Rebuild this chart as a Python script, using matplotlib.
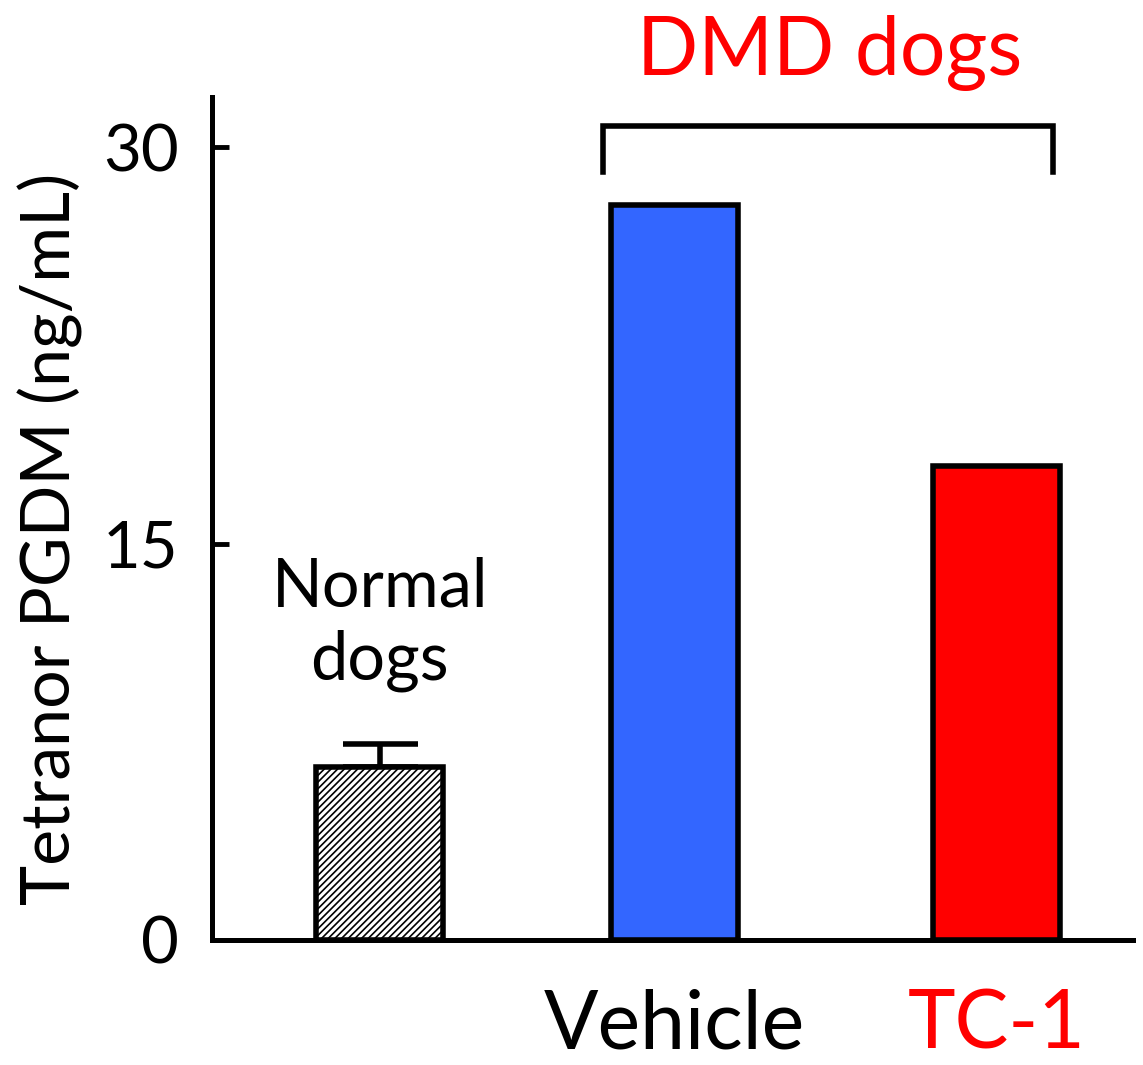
import matplotlib
matplotlib.use("Agg")
import matplotlib.pyplot as plt

plt.rcParams['font.family'] = ['Lato', 'DejaVu Sans']
plt.rcParams['hatch.color'] = '#707070'
plt.rcParams['hatch.linewidth'] = 1.2

categories = ["Normal dogs", "Vehicle", "TC-1"]
values = [6.55, 27.8, 17.95]
errors = [0.87, 0, 0]
positions = [1.0, 2.0, 3.095]
colors = ["white", "#3366FF", "#FF0000"]
hatches = ["/////", "", ""]
yticks = [0, 15, 30]

fig = plt.figure(figsize=(11.43, 10.65), dpi=100)
ax = fig.add_axes([212/1143, 125/1065, 921/1143, 843/1065])

width = 0.431
for x, v, c, h, e in zip(positions, values, colors, hatches, errors):
    ax.bar(x, v, width=width, color=c, edgecolor='black', linewidth=4, hatch=h, zorder=2)
    if e > 0:
        ax.errorbar(x, v, yerr=[[0], [e]], fmt='none', ecolor='black', elinewidth=4,
                    capsize=27, capthick=4, zorder=1)

ax.set_xlim(0.43, 3.557)
ax.set_ylim(0, 31.9)
ax.set_yticks(yticks)
ax.set_yticklabels([str(t) for t in yticks])
ax.tick_params(axis='y', direction='in', length=12, width=3.5, pad=24, labelsize=47)
ax.set_xticks([])
for s in ['top', 'right']:
    ax.spines[s].set_visible(False)
ax.spines['left'].set_linewidth(3.6)
ax.spines['bottom'].set_linewidth(3.6)

# bracket over DMD dogs
bx0, bx1 = 1.757, 3.285
ax.plot([bx0, bx0, bx1, bx1], [29.05, 30.8, 30.8, 29.05], color='black', lw=4,
        clip_on=False, solid_joinstyle='miter')
ax.text(2.528, 33.55, "DMD dogs", color='#FF0000', fontsize=58, ha='center', va='center', clip_on=False)

ax.text(1.0, 11.95, "Normal\ndogs", fontsize=48, ha='center', va='center', linespacing=1.22)
ax.text(positions[1], -4.1, categories[1], fontsize=58, ha='center', va='baseline', clip_on=False)
ax.text(positions[2], -4.1, categories[2], fontsize=58, ha='center', va='baseline', color='#FF0000', clip_on=False)

fig.text(50/1143, 1 - 539/1065, "Tetranor PGDM (ng/mL)", rotation=90, fontsize=49,
         ha='center', va='center')

fig.savefig("out.png", dpi=100)
